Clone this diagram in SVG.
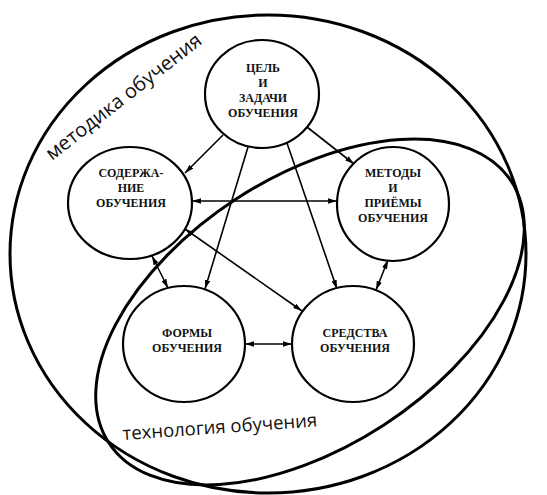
<svg xmlns="http://www.w3.org/2000/svg" width="547" height="495" viewBox="0 0 547 495">
<defs>
<marker id="ah" viewBox="0 0 10 6" refX="10" refY="3" markerWidth="9" markerHeight="5.4" markerUnits="userSpaceOnUse" orient="auto-start-reverse">
<path d="M0,0 L10,3 L0,6 Z" fill="#000"/>
</marker>
<style>
.area{fill:none;stroke:#000;stroke-width:3}
.node{fill:#fff;stroke:#000;stroke-width:2.2}
.lbl{font-family:"Liberation Serif","Times New Roman",serif;font-weight:bold;font-size:12px;text-anchor:middle;fill:#111}
.big{font-family:"Open Sans","Noto Sans",sans-serif;fill:#111}
.con line{stroke:#000;stroke-width:1.6}
</style>
</defs>
<rect width="547" height="495" fill="#fff"/>
<g id="metodika">
<ellipse class="area" cx="268" cy="254" rx="258" ry="239"/>
<text class="big" font-size="20" transform="translate(52,161) rotate(-38)">методика обучения</text>
</g>
<g id="tehnologia">
<ellipse class="area" cx="310" cy="312" rx="240" ry="135" transform="rotate(-33 310 312)"/>
<text class="big" font-size="18.5" transform="translate(123,440) rotate(-4)">технология обучения</text>
</g>
<g id="connectors" class="con">
<line x1="223" y1="135" x2="185" y2="173" marker-end="url(#ah)"/>
<line x1="307" y1="127" x2="354" y2="164" marker-end="url(#ah)"/>
<line x1="248" y1="147" x2="205" y2="289" marker-end="url(#ah)"/>
<line x1="287" y1="143" x2="337" y2="289" marker-end="url(#ah)"/>
<line x1="192" y1="201" x2="337" y2="201" marker-start="url(#ah)" marker-end="url(#ah)"/>
<line x1="152" y1="256" x2="168" y2="288" marker-start="url(#ah)" marker-end="url(#ah)"/>
<line x1="185" y1="229" x2="302" y2="311" marker-start="url(#ah)" marker-end="url(#ah)"/>
<line x1="388" y1="260" x2="376" y2="290" marker-start="url(#ah)" marker-end="url(#ah)"/>
<line x1="245" y1="344" x2="292" y2="344" marker-start="url(#ah)" marker-end="url(#ah)"/>
</g>
<g id="cel">
<ellipse class="node" cx="262" cy="94" rx="57" ry="54"/>
<text class="lbl" x="263" y="72">ЦЕЛЬ</text>
<text class="lbl" x="263" y="87">И</text>
<text class="lbl" x="263" y="102">ЗАДАЧИ</text>
<text class="lbl" x="263" y="117">ОБУЧЕНИЯ</text>
</g>
<g id="soderzhanie">
<ellipse class="node" cx="130" cy="203" rx="62" ry="56"/>
<text class="lbl" x="131" y="177">СОДЕРЖА-</text>
<text class="lbl" x="131" y="192">НИЕ</text>
<text class="lbl" x="131" y="207">ОБУЧЕНИЯ</text>
</g>
<g id="metody">
<ellipse class="node" cx="393" cy="204" rx="56" ry="57"/>
<text class="lbl" x="393" y="177">МЕТОДЫ</text>
<text class="lbl" x="393" y="192">И</text>
<text class="lbl" x="393" y="207">ПРИЁМЫ</text>
<text class="lbl" x="393" y="222">ОБУЧЕНИЯ</text>
</g>
<g id="formy">
<ellipse class="node" cx="184" cy="344" rx="61" ry="58"/>
<text class="lbl" x="187" y="337">ФОРМЫ</text>
<text class="lbl" x="187" y="352">ОБУЧЕНИЯ</text>
</g>
<g id="sredstva">
<ellipse class="node" cx="353" cy="344" rx="61" ry="58"/>
<text class="lbl" x="355" y="337">СРЕДСТВА</text>
<text class="lbl" x="355" y="352">ОБУЧЕНИЯ</text>
</g>
</svg>
